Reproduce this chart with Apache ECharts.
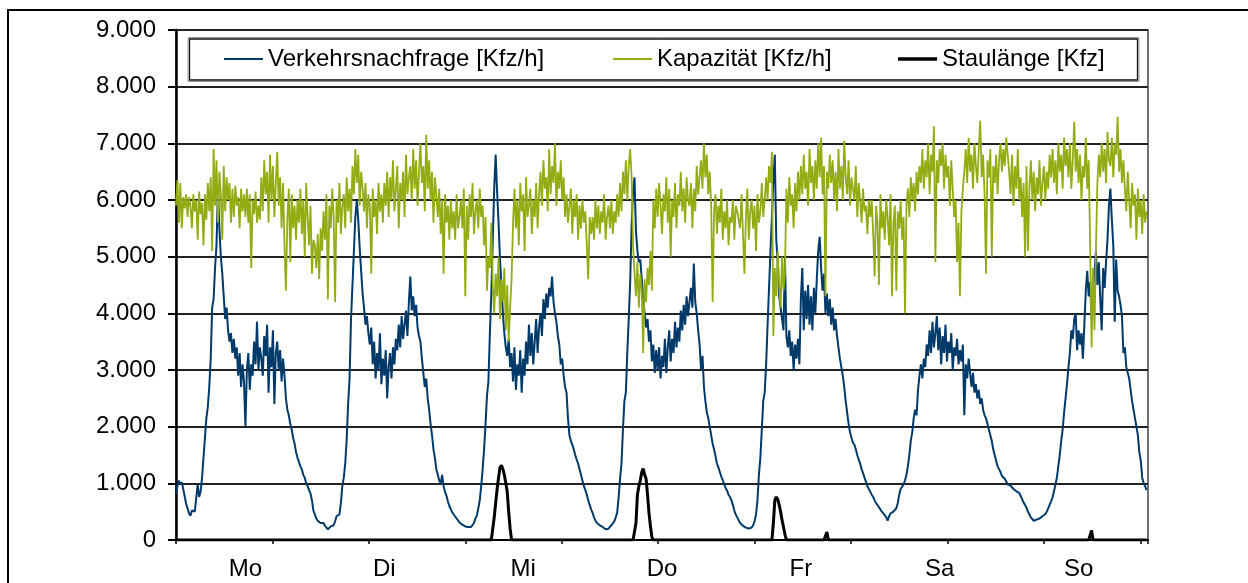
<!DOCTYPE html>
<html>
<head>
<meta charset="utf-8">
<script src="https://cdn.jsdelivr.net/npm/echarts@6/dist/echarts.min.js"></script>
<style>
html,body{margin:0;padding:0;background:#fff;}
#chart{width:1248px;height:583px;}
</style>
</head>
<body>
<div id="chart"></div>
<script>
// ---- data (15-minute values, 96 per day) ----
const dayLabels = ['Mo','Di','Mi','Do','Fr','Sa','So'];
const yTickValues = [0,1000,2000,3000,4000,5000,6000,7000,8000,9000];
const seriesNames = ['Verkehrsnachfrage [Kfz/h]','Kapazität [Kfz/h]','Staulänge [Kfz]'];

const demandMo = [820,950,1050,980,1020,900,870,640,560,470,
430,520,550,500,520,980,760,850,1100,1450,
1800,2150,2350,2700,3200,4100,4250,4800,5200,6180,
5500,5000,4700,4300,3900,4100,3700,3500,3650,3300,
3550,3200,3400,2900,3300,2700,3100,2800,2000,3000,
3300,2650,3100,2900,3500,3100,3850,3000,3400,3200,
2900,3600,3250,3800,2600,3400,3050,3700,2400,3300,
3500,3000,3350,2800,3200,2900,2500,2300,2200,2050,
1950,1800,1700,1550,1450,1380,1300,1250,1150,1100,
1000,950,880,820,700,520];
const demandDi = [450,380,340,330,300,280,300,250,230,190,
220,240,210,260,330,420,400,450,650,950,
1100,1350,1770,2400,2850,3900,4500,5100,5700,6000,
5650,5150,4750,4350,4100,3800,3950,3650,3450,3750,
3100,3500,2850,3300,3000,3650,2750,3200,2900,3350,
2500,3050,3300,2850,3400,3100,3550,3350,3800,3400,
3950,3550,3800,4050,3600,4200,4650,4050,4300,3950,
4150,3750,3600,3500,3200,2950,2700,2850,2500,2300,
2050,1850,1600,1450,1250,1150,1050,1000,1150,950,
850,780,680,600,540,490];
const demandMi = [450,420,380,350,310,290,270,260,240,215,
230,250,230,260,300,380,430,560,700,950,
1250,1600,2050,2550,2800,3650,4350,5300,6200,6800,
6150,5600,4950,4500,4000,3650,3400,3250,3550,3050,
3300,2800,3400,2650,3100,2900,3350,2600,3200,2900,
3500,3100,3800,3250,3650,3100,3500,3900,3300,3750,
4000,3600,4250,3900,4350,4100,4450,4300,4650,4200,
4000,3850,3600,3450,3100,3200,2900,2700,2600,2150,
1850,1750,1680,1600,1500,1420,1350,1250,1150,1050,
950,880,800,700,620,540];
const demandDo = [480,400,340,300,280,260,240,230,210,190,
210,200,230,260,290,330,400,480,750,1080,
1350,1950,2450,2600,3300,3900,4550,5550,6150,6400,
5450,5100,4900,4950,4600,4250,4000,3750,3900,3500,
3700,3150,3450,2950,3350,3000,3400,2850,3250,3050,
3550,2950,3400,3700,3150,3550,3300,3850,3400,3750,
3500,4050,3700,4150,3800,4300,3950,4200,4450,4100,
4880,4200,4000,3700,3450,3000,3250,2700,2450,2250,
2150,2000,1850,1700,1600,1480,1350,1280,1200,1120,
1060,980,920,870,800,760];
const demandFr = [700,620,520,450,400,350,300,280,250,240,
220,210,200,190,220,260,330,450,700,1150,
1450,1950,2450,2600,3100,3800,4450,5100,5700,6350,
6800,5300,4900,4300,4100,3900,3700,5000,3600,3400,
3700,3250,3500,3000,3450,3200,3550,3100,4250,4800,
3700,4400,3900,4500,3800,4300,3700,4450,4000,4600,
5100,5350,4800,4400,4700,4000,4350,3950,4250,3800,
4100,3700,3900,3600,3400,3200,3050,2900,2700,2450,
2250,2050,1900,1800,1720,1680,1600,1500,1420,1350,
1250,1180,1100,1030,950,900];
const demandSa = [850,800,760,700,650,620,580,560,500,470,
440,400,340,420,470,440,500,520,560,650,
800,900,880,980,1050,1150,1300,1500,1750,1900,
2150,2300,2200,2650,2900,3100,2850,3200,3050,3450,
3250,3700,3300,3850,3400,3650,3950,3350,3750,3100,
3600,3300,3800,3150,3500,3300,3650,3000,3400,3250,
3550,3100,3350,3150,3450,2200,3100,2850,3200,2950,
2700,2950,2600,2750,2500,2650,2400,2500,2300,2200,
2150,2050,1950,1850,1750,1600,1500,1400,1300,1250,
1200,1130,1150,1080,1050,980];
const demandSo = [1000,960,930,900,880,860,850,830,800,720,
660,620,570,500,450,400,370,340,310,360,
330,380,350,420,400,460,500,560,620,680,
750,860,980,1100,1300,1500,1750,1950,2250,2500,
2750,3050,3300,3700,3550,3900,4000,3350,3700,3450,
3650,3200,3800,4400,4750,4300,4550,3900,4200,4700,
5100,4500,4900,4250,3700,4800,4450,4900,5300,5900,
6200,5650,5200,3850,4950,4400,4300,4150,3950,3300,
3400,3050,2950,2850,2650,2450,2300,2150,2000,1850,
1550,1400,1100,1000,950,880];

const capacityMo = [5900,6350,5600,6300,5500,6050,5850,6100,5700,6050,
5900,5500,6100,5800,6000,5300,6150,5750,5950,5200,
6100,5650,6300,5800,6400,5100,6900,5900,6700,5600,
6500,6100,5300,6600,5800,6400,6000,6300,5600,6200,
5700,6250,5900,6050,5500,6200,5800,6100,5700,6200,
5600,6100,4800,6000,5750,6150,5600,5900,5650,6400,
5800,6700,6100,6500,5600,6800,6000,6600,5700,6300,
6850,5900,6400,5500,6300,5200,4400,5700,6200,4900,
6100,5500,5900,5300,6000,5600,6200,5400,6000,5000,
6300,5700,5200,5900,4700,5300];
const capacityDi = [5200,4800,5400,4600,5500,5100,5800,5300,6100,4250,
5900,5500,6200,5700,4200,6000,5600,6300,5400,5900,
6100,5500,6400,5800,6200,5600,6600,6100,6900,6300,
6800,5900,6500,6200,5800,6300,5500,6100,5900,4700,
6200,5700,6000,5400,6300,5800,6100,5600,6300,5900,
6500,5700,6400,6000,6700,5800,6200,6600,5500,6300,
6000,6500,5700,6800,6100,6400,6600,6000,6900,6200,
6700,5900,6500,7000,6300,6600,5800,7150,6200,6700,
6000,6500,5600,6400,6100,5700,6200,5400,6000,4700,
6100,5600,5900,5300,6000,5500];
const capacityMi = [5800,5300,6100,5500,5700,6000,5500,6200,4300,5900,
5300,6100,5700,6300,5400,5800,6000,5500,6200,5700,
5900,5200,5700,4400,5000,4800,5600,4500,4000,4700,
4300,5000,3900,4600,4200,4800,3700,4500,3500,4100,
4600,5600,6200,5500,6000,5200,6300,5800,6100,5100,
6400,5700,5900,6200,5400,6000,5700,6300,5500,6100,
6500,5900,6700,6200,6400,5800,6900,6100,6600,6300,
7000,5900,6500,6200,6700,6000,6400,5700,6100,5600,
5900,6200,5400,6000,5700,6100,5300,5900,5500,6000,
5600,5800,5200,4600,5700,5400];
const capacityDo = [5700,5300,6000,5500,5900,5400,5800,5600,6100,5300,
5700,5900,5500,6000,5400,5800,5600,6100,5700,6300,
5800,6500,6100,6700,6000,6600,6900,6400,5200,4700,
4300,4900,4100,4700,4400,3300,4600,4200,4800,4500,
5100,4400,6000,5500,6200,5700,6300,5900,5400,6100,
5800,6400,5600,6200,5000,6000,5700,6300,5500,6100,
5900,6500,5800,6200,5600,6400,6000,5900,6300,5500,
6200,5800,6600,6100,6400,6700,6200,7000,6400,6800,
6100,6500,5900,4200,5800,6100,5400,5900,5600,6200,
5300,5800,5500,6000,5200,5700];
const capacityFr = [5600,6000,5300,5900,5800,5800,5500,6100,5400,4700,
5700,6200,5300,5800,6000,5500,5900,5100,6100,5600,
5800,6300,5700,6000,6400,6000,6600,6300,6850,3600,
4800,4300,5100,4500,4100,5000,4400,4700,6200,5600,
6400,5900,6100,5500,6300,5800,6500,6000,6600,6100,
6800,6200,6500,5900,6900,6300,6600,6000,6700,6200,
7000,6400,7100,6100,6600,4300,6500,6200,6800,6300,
6700,6000,6500,5800,6900,6200,6600,6000,7050,6400,
6100,6700,5900,6400,6200,6000,6600,5700,6300,6000,
5600,6200,5800,5900,5400,6000];
const capacitySa = [5700,6000,5400,4650,5900,5600,4500,6100,5500,5800,
5300,6000,5700,5200,6100,4300,5600,5900,4400,5800,
5500,6000,5300,5700,4000,5900,6200,5700,6400,6000,
6300,5800,6500,6100,6600,6300,6900,6200,6700,6400,
7000,6100,6800,6500,7300,4900,6700,6300,6900,6600,
7000,6200,6800,6400,6600,5900,6700,6200,5700,6000,
4900,5600,4300,5800,6200,6500,6900,6300,7100,6500,
6800,6200,7000,6600,6300,6900,7400,6400,6800,6100,
4700,6700,6400,6900,5000,6600,6300,6800,6100,6700,
7000,6500,6900,6600,7100,6800];
const capacitySo = [6500,6100,6800,5900,6600,6200,6900,6000,6400,5700,
6300,5000,6600,5100,6200,6700,6000,6500,5800,6400,
6100,6700,5900,6300,6600,6000,6500,6200,6800,6400,
6900,6300,6700,6100,7000,6500,6800,6200,7100,6600,
6900,6400,7000,6200,6700,7380,6500,6900,6300,6800,
6000,6600,6400,7100,6200,6700,5200,3400,4800,3700,
5100,6300,6800,6400,7000,6500,6900,6300,7200,6700,
6600,7100,6400,7000,6800,7470,6500,6900,6300,6700,
6200,5800,6500,6000,5500,6300,5900,6100,5300,6200,
5700,6000,5400,6100,5600,5800];

const queueMo = [0,0,0,0,0,0,0,0,0,0, 0,0,0,0,0,0,0,0,0,0, 0,0,0,0,0,0,0,0,0,0,
0,0,0,0,0,0,0,0,0,0, 0,0,0,0,0,0,0,0,0,0, 0,0,0,0,0,0,0,0,0,0,
0,0,0,0,0,0,0,0,0,0, 0,0,0,0,0,0,0,0,0,0, 0,0,0,0,0,0,0,0,0,0, 0,0,0,0,0,0];
const queueDi = [0,0,0,0,0,0,0,0,0,0, 0,0,0,0,0,0,0,0,0,0, 0,0,0,0,0,0,0,0,0,0,
0,0,0,0,0,0,0,0,0,0, 0,0,0,0,0,0,0,0,0,0, 0,0,0,0,0,0,0,0,0,0,
0,0,0,0,0,0,0,0,0,0, 0,0,0,0,0,0,0,0,0,0, 0,0,0,0,0,0,0,0,0,0, 0,0,0,0,0,0];
const queueMi = [0,0,0,0,0,0,0,0,0,0, 0,0,0,0,0,0,0,0,0,0, 0,0,0,0,0,0,0,200,400,650,
900,1100,1280,1320,1250,1150,1000,850,500,200, 0,0,0,0,0,0,0,0,0,0, 0,0,0,0,0,0,0,0,0,0,
0,0,0,0,0,0,0,0,0,0, 0,0,0,0,0,0,0,0,0,0, 0,0,0,0,0,0,0,0,0,0, 0,0,0,0,0,0];
const queueDo = [0,0,0,0,0,0,0,0,0,0, 0,0,0,0,0,0,0,0,0,0, 0,0,0,0,0,0,0,0,0,0,
300,800,950,1050,1200,1260,1150,1080,800,480, 250,50,0,0,0,0,0,0,0,0, 0,0,0,0,0,0,0,0,0,0,
0,0,0,0,0,0,0,0,0,0, 0,0,0,0,0,0,0,0,0,0, 0,0,0,0,0,0,0,0,0,0, 0,0,0,0,0,0];
const queueFr = [0,0,0,0,0,0,0,0,0,0, 0,0,0,0,0,0,0,0,0,0, 0,0,0,0,0,0,0,0,0,300,
700,760,720,620,500,350,230,100,0,0, 0,0,0,0,0,0,0,0,0,0, 0,0,0,0,0,0,0,0,0,0,
0,0,0,0,0,0,140,0,0,0, 0,0,0,0,0,0,0,0,0,0, 0,0,0,0,0,0,0,0,0,0, 0,0,0,0,0,0];
const queueSa = [0,0,0,0,0,0,0,0,0,0, 0,0,0,0,0,0,0,0,0,0, 0,0,0,0,0,0,0,0,0,0,
0,0,0,0,0,0,0,0,0,0, 0,0,0,0,0,0,0,0,0,0, 0,0,0,0,0,0,0,0,0,0,
0,0,0,0,0,0,0,0,0,0, 0,0,0,0,0,0,0,0,0,0, 0,0,0,0,0,0,0,0,0,0, 0,0,0,0,0,0];
const queueSo = [0,0,0,0,0,0,0,0,0,0, 0,0,0,0,0,0,0,0,0,0, 0,0,0,0,0,0,0,0,0,0,
0,0,0,0,0,0,0,0,0,0, 0,0,0,0,0,0,0,0,0,0, 0,0,0,0,0,0,0,170,0,0,
0,0,0,0,0,0,0,0,0,0, 0,0,0,0,0,0,0,0,0,0, 0,0,0,0,0,0,0,0,0,0, 0,0,0,0,0,0];

const demandWeek = [demandMo,demandDi,demandMi,demandDo,demandFr,demandSa,demandSo];
const capacityWeek = [capacityMo,capacityDi,capacityMi,capacityDo,capacityFr,capacitySa,capacitySo];
const queueWeek = [queueMo,queueDi,queueMi,queueDo,queueFr,queueSa,queueSo];

// ---- build chart ----
const MIN_PER_DAY = 1440, STEP = 15;
function toPoints(week){
  const out = [];
  week.forEach((arr, d) => arr.forEach((v, i) => out.push([d*MIN_PER_DAY + i*STEP, v])));
  return out;
}
const FONT = '"Liberation Sans", Arial, sans-serif';
const C_DEMAND = '#003a6a', C_CAP = '#92ad13', C_QUEUE = '#000000';

const chart = echarts.init(document.getElementById('chart'), null, {renderer:'canvas'});
function legendFor(name, left, h){
  return {
    data:[name], left:left, top:47, padding:0, icon:'rect', itemWidth:39, itemHeight:h,
    selectedMode:false, textStyle:{fontSize:24, fontFamily:FONT, color:'#000'}
  };
}
chart.setOption({
  animation:false,
  backgroundColor:'#fff',
  textStyle:{fontFamily:FONT},
  grid:{left:176, top:30, width:972, height:510, show:true, borderColor:'#444', borderWidth:1.5, backgroundColor:'transparent'},
  legend:[
    legendFor(seriesNames[0], 224, 2),
    legendFor(seriesNames[1], 613, 2),
    legendFor(seriesNames[2], 898, 3.5)
  ],
  xAxis:[
    {type:'value', min:0, max:7*MIN_PER_DAY, interval:1000,
     axisLine:{show:true, lineStyle:{color:'#000', width:2}},
     axisTick:{show:true, length:4, lineStyle:{color:'#000', width:1.5}},
     axisLabel:{show:false}, splitLine:{show:false}},
    {type:'category', data:dayLabels, position:'bottom', boundaryGap:true,
     axisLine:{show:false}, axisTick:{show:false}, splitLine:{show:false},
     axisLabel:{fontSize:24, fontFamily:FONT, color:'#000', margin:17}}
  ],
  yAxis:{type:'value', min:yTickValues[0], max:yTickValues[yTickValues.length-1], interval:1000,
    axisLine:{show:true, lineStyle:{color:'#000', width:2.5}},
    axisTick:{show:true, length:8, lineStyle:{color:'#000', width:2}},
    axisLabel:{fontSize:24, fontFamily:FONT, color:'#000', margin:20,
      formatter: v => v === 0 ? '0' : String(v/1000) + '.000'},
    splitLine:{show:true, lineStyle:{color:'#222', width:2}}},
  series:[
    {name:seriesNames[0], type:'line', xAxisIndex:0, data:toPoints(demandWeek), showSymbol:false, symbol:'none',
     itemStyle:{color:C_DEMAND}, lineStyle:{color:C_DEMAND, width:2}, z:2},
    {name:seriesNames[1], type:'line', xAxisIndex:0, data:toPoints(capacityWeek), showSymbol:false, symbol:'none',
     itemStyle:{color:C_CAP}, lineStyle:{color:C_CAP, width:1.8}, z:3},
    {name:seriesNames[2], type:'line', xAxisIndex:0, data:toPoints(queueWeek), showSymbol:false, symbol:'none',
     itemStyle:{color:C_QUEUE}, lineStyle:{color:C_QUEUE, width:3}, z:4}
  ],
  graphic:[
    {type:'rect', silent:true, z:100, shape:{x:8, y:10, width:1400, height:800},
     style:{fill:'none', stroke:'#000', lineWidth:2}},
    {type:'rect', silent:true, z:1, shape:{x:188, y:37.5, width:951, height:44},
     style:{fill:'none', stroke:'#999', lineWidth:1}},
    {type:'rect', silent:true, z:1, shape:{x:189.5, y:39, width:948, height:41},
     style:{fill:'none', stroke:'#111', lineWidth:1.3}}
  ]
});
</script>
</body>
</html>
